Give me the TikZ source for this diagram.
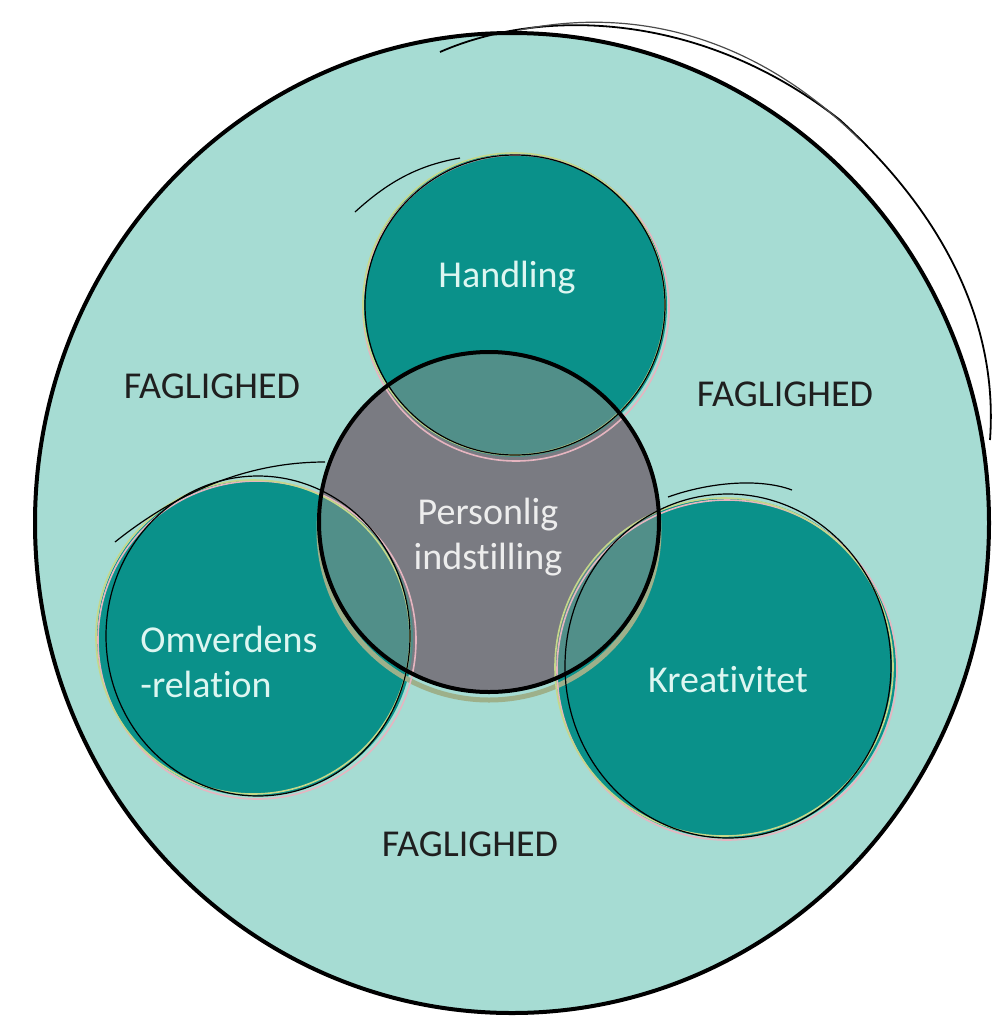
\documentclass[tikz,border=0pt]{standalone}
\usepackage{fontspec}
\setmainfont{Carlito}[Ligatures=NoCommon]
\definecolor{outerc}{HTML}{A6DCD3}
\definecolor{tealc}{HTML}{0A918A}
\definecolor{grayc}{HTML}{7A7B82}
\definecolor{overc}{HTML}{518F89}
\definecolor{lbl}{HTML}{DDF6F1}
\definecolor{lblg}{HTML}{EDEDED}
\definecolor{pinkc}{HTML}{E6B5C0}
\definecolor{limec}{HTML}{C5D88A}
\definecolor{olivec}{HTML}{9DB08A}
\begin{document}
\begin{tikzpicture}[x=0.5pt,y=-0.5pt,
  lab/.style={font=\fontsize{19}{22.5}\selectfont, text=lbl, align=center, inner sep=0pt},
  fag/.style={font=\fontsize{19}{22.5}\selectfont, text=black!88, inner sep=0pt},
  ink/.style={draw=black, line width=0.6pt},
  pinkline/.style={draw=pinkc, line width=0.8pt},
  limeline/.style={draw=limec, line width=0.8pt}]
\useasboundingbox[fill=white] (0,0) rectangle (992,1024);
% outer circle
\fill[outerc] (512,523) ellipse [x radius=477, y radius=490];
\draw[line width=2pt] (512,523) ellipse [x radius=477, y radius=490];
\draw[line width=0.9pt] (440,52) .. controls (540,8) and (700,10) .. (840,120) .. controls (950,220) and (998,330) .. (990,440);
\draw[line width=0.6pt, black!70] (520,30) .. controls (640,5) and (760,40) .. (860,140);
% teal circles
\fill[tealc] (515,305) circle (152);
\fill[tealc] (255,638) circle (158);
\fill[tealc] (726,668) circle (170);
% gray circle
\draw[olivec, line width=2.5pt] (489,530) circle (170);
\fill[grayc] (489,522) circle (170);
% overlaps
\begin{scope}
  \clip (489,522) circle (170);
  \fill[overc] (515,305) circle (152);
  \fill[overc] (255,638) circle (158);
  \fill[overc] (726,668) circle (170);
\end{scope}
% sketchy outlines of teal circles
\draw[pinkline] (516,308) circle (153);
\draw[limeline] (514,304) circle (151);
\draw[ink] (515,305) circle (150);
\draw[ink] (355,212) .. controls (390,180) and (420,165) .. (460,158);
\draw[pinkline] (257,640) circle (159);
\draw[limeline] (253,637) circle (157);
\draw[ink] (258,636) ellipse [x radius=152, y radius=160];
\draw[ink] (115,542) .. controls (180,490) and (250,462) .. (325,462);
\draw[pinkline] (727,670) circle (170);
\draw[limeline] (724,667) circle (169);
\draw[ink] (728,666) ellipse [x radius=163, y radius=172];
\draw[ink] (668,497) .. controls (710,482) and (760,478) .. (792,490);
% gray circle outline
\draw[line width=2pt] (489,522) circle (170);
% labels
\node[fag] (f1) at (212,386) {FAGLIGHED};
\node[fag] (f2) at (785,394) {FAGLIGHED};
\node[fag] (f3) at (470,844) {FAGLIGHED};
\node[lab] (th) at (507,278) {Handling};
\node[lab, text=lblg] (tp) at (488,537) {Personlig\\indstilling};
\node[lab, align=left, anchor=west] (to) at (140,662) {Omverdens\\-relation};
\node[lab] (tk) at (728,680) {Kreativitet};
\end{tikzpicture}
\end{document}
